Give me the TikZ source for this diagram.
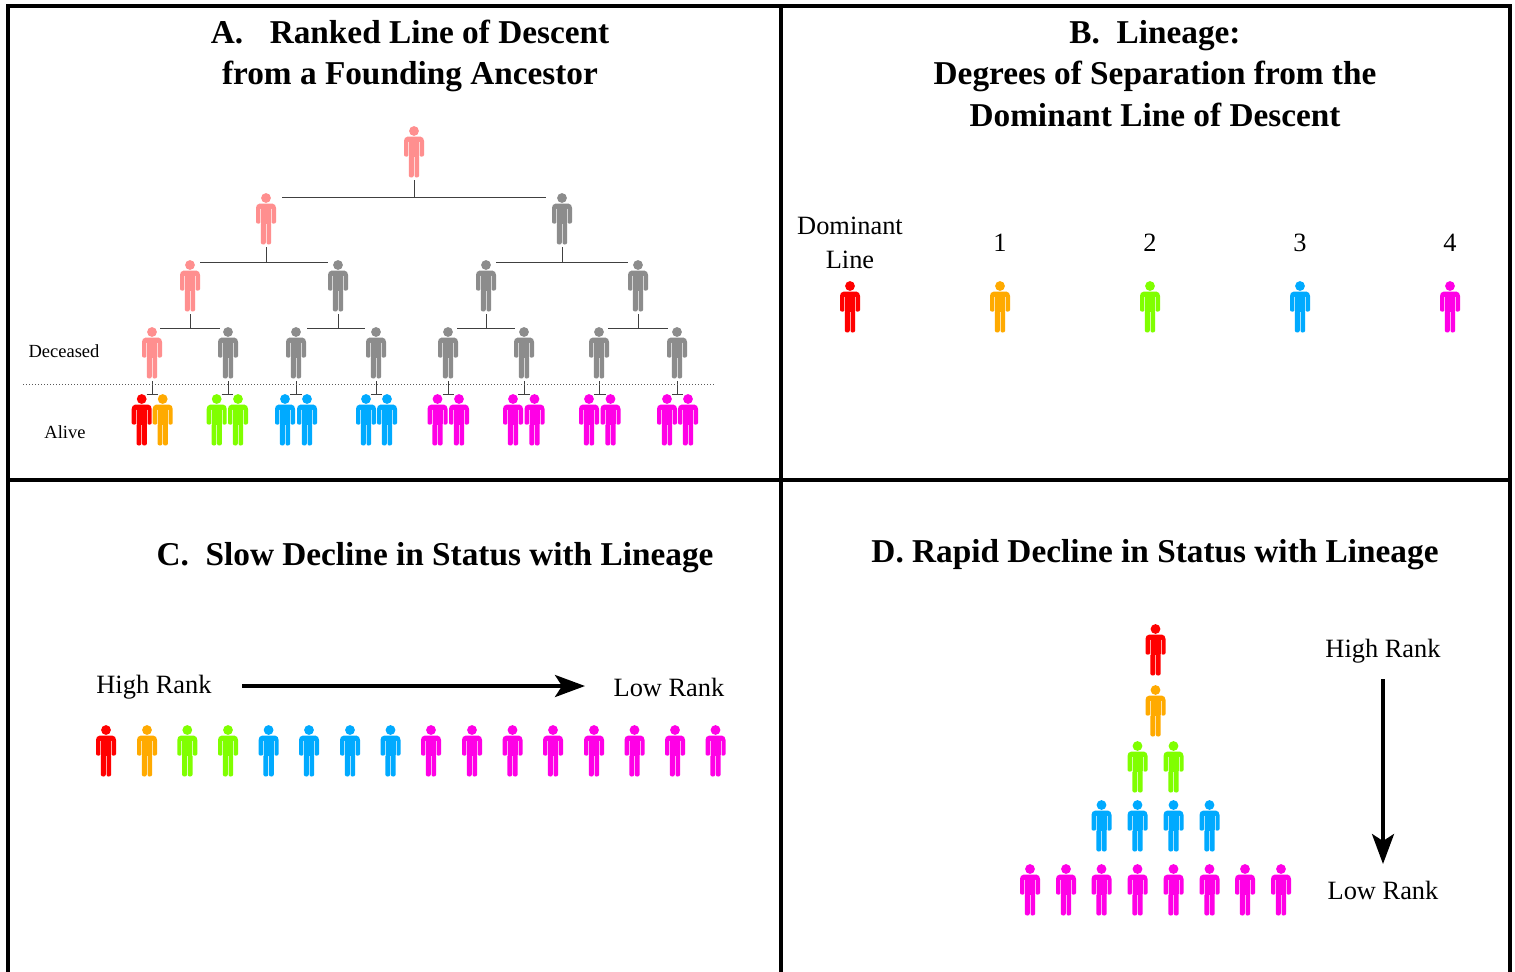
\documentclass[tikz,border=0pt]{standalone}
\usepackage{fontspec}
\setmainfont{Liberation Serif}
\usetikzlibrary{calc,arrows.meta}
\definecolor{cRed}{HTML}{FF0000}
\definecolor{cOrange}{HTML}{FFAA00}
\definecolor{cGreen}{HTML}{80FF00}
\definecolor{cBlue}{HTML}{00AAFF}
\definecolor{cMag}{HTML}{FF00E6}
\definecolor{cPink}{HTML}{FF8F8F}
\definecolor{cGrey}{HTML}{8C8C8C}
\tikzset{
  frameline/.style={line width=2pt,black},
  conn/.style={line width=0.5pt,black!75},
  bigarrow/.style={line width=1.8pt,black,-{Stealth[length=15pt,width=11pt,inset=3.5pt]}},
  titletext/.style={font=\fontsize{16.65}{20}\selectfont\bfseries,anchor=base,inner sep=0pt},
  ranktext/.style={font=\fontsize{13.2}{16}\selectfont,anchor=base,inner sep=0pt},
  smalltext/.style={font=\fontsize{9.25}{11}\selectfont,anchor=base,inner sep=0pt},
}
\newcommand{\person}[4]{%
  \coordinate (#1) at (#2,#3);
  \coordinate (#1-b) at ($(#1)+(0,49)$);
  \begin{scope}[shift={(#2,#3)}]
    \fill[#4] (0,0) circle[radius=4.9];
    \fill[#4] (-10,10) to[out=90,in=180] (-6.5,5.6) -- (6.5,5.6) to[out=0,in=90] (10,10)
      -- (10,24) to[out=-90,in=-90,looseness=1.2] (5.4,24) -- (5.2,25) -- (5.2,44.6)
      to[out=-90,in=-90,looseness=1.3] (0.2,44.6) -- (0.2,26) -- (-0.2,26) -- (-0.2,44.6)
      to[out=-90,in=-90,looseness=1.3] (-5.2,44.6) -- (-5.2,25) -- (-5.4,24)
      to[out=-90,in=-90,looseness=1.2] (-10,24) -- cycle;
    \draw[white,opacity=0.65,line width=0.4pt] (-5.5,10.5) -- (-5.5,26) (5.5,10.5) -- (5.5,26) (0,26) -- (0,47);
  \end{scope}
}
\newcommand{\family}[5]{% parent,left,right,gap,bar offset
  \draw[conn] (#1-b) -- (#1-b |- {$(#2)+(0,#5)$});
  \draw[conn] ($(#2)+(#4,#5)$) -- ($(#3)+(-#4,#5)$);
}
\begin{document}
\begin{tikzpicture}[x=0.5pt,y=-0.5pt]
\useasboundingbox (0,0) rectangle (1515,971);
\fill[white] (0,0) rectangle (1515,971);
% frame
\coordinate (tl) at (8,6); \coordinate (tr) at (1510,6);
\coordinate (bl) at (8,975); \coordinate (br) at (1510,975);
\coordinate (mt) at (781,6); \coordinate (mb) at (781,975);
\coordinate (ml) at (8,480); \coordinate (mr) at (1510,480);
\draw[frameline,line cap=rect] (bl) -- (tl) -- (tr) -- (br);
\draw[frameline] (mt) -- (mb);
\draw[frameline] (ml) -- (mr);
% titles
\node[titletext] (ta1) at (410,43.5) {A.\hspace{0.8em}Ranked Line of Descent};
\node[titletext] (ta2) at (410,84.5) {from a Founding Ancestor};
\node[titletext] (tb1) at (1155,43.5) {B.\hspace{0.5em}Lineage:};
\node[titletext] (tb2) at (1155,84.5) {Degrees of Separation from the};
\node[titletext] (tb3) at (1155,126.5) {Dominant Line of Descent};
\node[titletext] (tc) at (435,565.5) {C.\hspace{0.5em}Slow Decline in Status with Lineage};
\node[titletext] (td) at (1155,562.5) {D. Rapid Decline in Status with Lineage};
% panel A people
\person{r}{414}{131}{cPink}
\person{a}{266}{198}{cPink}
\person{b}{562}{198}{cGrey}
\person{aa}{190}{265}{cPink}
\person{ab}{338}{265}{cGrey}
\person{ba}{486}{265}{cGrey}
\person{bb}{638}{265}{cGrey}
\person{d1}{152}{332}{cPink}
\person{d2}{228}{332}{cGrey}
\person{d3}{296}{332}{cGrey}
\person{d4}{376}{332}{cGrey}
\person{d5}{448}{332}{cGrey}
\person{d6}{524}{332}{cGrey}
\person{d7}{599}{332}{cGrey}
\person{d8}{677}{332}{cGrey}
\person{l1}{141.7}{399}{cRed}
\person{m1}{162.7}{399}{cOrange}
\person{l2}{216.7}{399}{cGreen}
\person{m2}{238}{399}{cGreen}
\person{l3}{285}{399}{cBlue}
\person{m3}{307}{399}{cBlue}
\person{l4}{366}{399}{cBlue}
\person{m4}{387}{399}{cBlue}
\person{l5}{437.5}{399}{cMag}
\person{m5}{459}{399}{cMag}
\person{l6}{513}{399}{cMag}
\person{m6}{534.5}{399}{cMag}
\person{l7}{589}{399}{cMag}
\person{m7}{610.5}{399}{cMag}
\person{l8}{667}{399}{cMag}
\person{m8}{688}{399}{cMag}
\family{r}{a}{b}{16}{-1}
\family{a}{aa}{ab}{10}{-3}
\family{b}{ba}{bb}{10}{-3}
\family{aa}{d1}{d2}{8}{-4}
\family{ab}{d3}{d4}{11}{-4}
\family{ba}{d5}{d6}{9}{-4}
\family{bb}{d7}{d8}{9}{-4}
\family{d1}{l1}{m1}{5}{-5}
\family{d2}{l2}{m2}{5}{-5}
\family{d3}{l3}{m3}{5}{-5}
\family{d4}{l4}{m4}{5}{-5}
\family{d5}{l5}{m5}{5}{-5}
\family{d6}{l6}{m6}{5}{-5}
\family{d7}{l7}{m7}{5}{-5}
\family{d8}{l8}{m8}{5}{-5}
\coordinate (dl) at (23,384.5); \coordinate (dr) at (715,384.5);
\draw[black!65,line width=0.6pt,dash pattern=on 0.6pt off 0.9pt] (dl) -- (dr);
\node[smalltext] (dec) at (64,357) {Deceased};
\node[smalltext] (ali) at (65,438) {Alive};
% panel B
\node[ranktext] (bd1) at (850,234) {Dominant};
\node[ranktext] (bd2) at (850,268) {Line};
\node[ranktext] (n1) at (1000,251) {1};
\node[ranktext] (n2) at (1150,251) {2};
\node[ranktext] (n3) at (1300,251) {3};
\node[ranktext] (n4) at (1450,251) {4};
\person{bp0}{850}{286}{cRed}
\person{bp1}{1000}{286}{cOrange}
\person{bp2}{1150}{286}{cGreen}
\person{bp3}{1300}{286}{cBlue}
\person{bp4}{1450}{286}{cMag}
% panel C
\node[ranktext] (chi) at (154,693) {High Rank};
\node[ranktext] (clo) at (669,696) {Low Rank};
\coordinate (cs) at (242,686); \coordinate (ce) at (585,686);
\draw[bigarrow] (cs) -- (ce);
\foreach \i/\x/\c in {1/106/cRed,2/147/cOrange,3/187.3/cGreen,4/228/cGreen,5/268.6/cBlue,6/309/cBlue,7/350/cBlue,8/390.5/cBlue,9/431/cMag,10/472/cMag,11/512.5/cMag,12/553/cMag,13/594/cMag,14/634.5/cMag,15/675/cMag,16/715.5/cMag}
  {\person{c\i}{\x}{730}{\c}}
% panel D
\node[ranktext] (dhi) at (1383,657) {High Rank};
\node[ranktext] (dlo) at (1383,899) {Low Rank};
\coordinate (ds) at (1383,679); \coordinate (de) at (1383,864);
\draw[bigarrow] (ds) -- (de);
\person{e1}{1155.5}{629}{cRed}
\person{e2}{1155.5}{690}{cOrange}
\person{e3}{1137.5}{746}{cGreen}
\person{e4}{1173.5}{746}{cGreen}
\foreach \i/\x in {1/1101.5,2/1137.5,3/1173.5,4/1209.5}
  {\person{f\i}{\x}{805}{cBlue}}
\foreach \i/\x in {1/1030,2/1066,3/1101.5,4/1137.5,5/1173.5,6/1209.5,7/1245,8/1281}
  {\person{g\i}{\x}{869}{cMag}}
\end{tikzpicture}
\end{document}
